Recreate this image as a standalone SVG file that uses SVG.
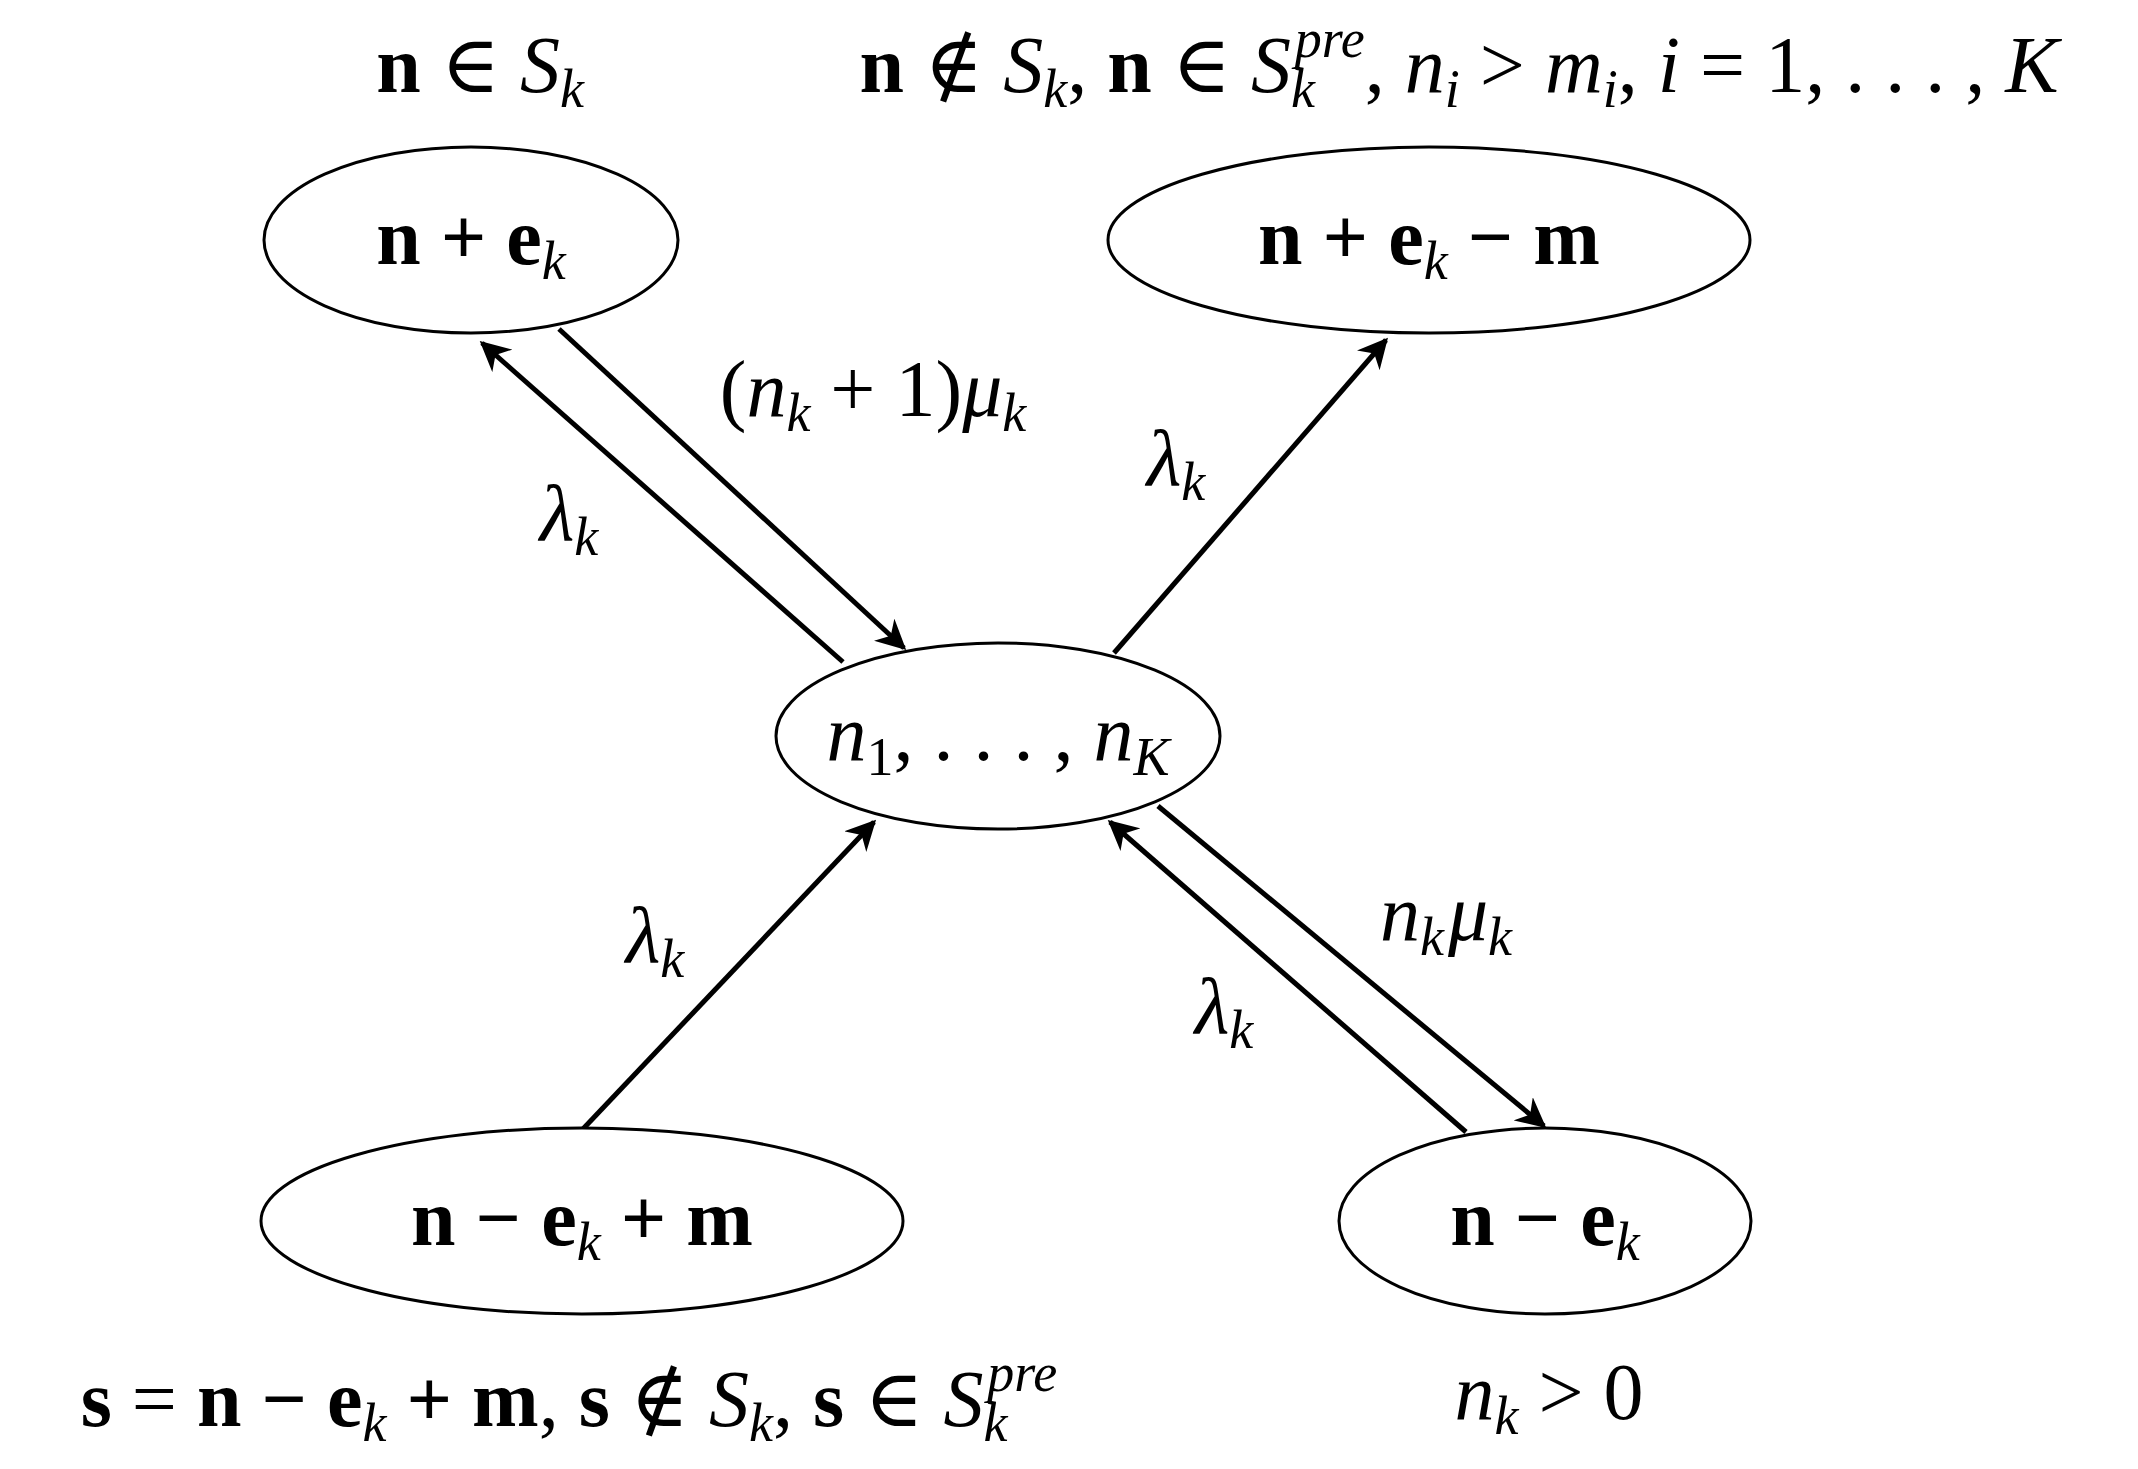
<svg xmlns="http://www.w3.org/2000/svg" width="2138" height="1469" viewBox="0 0 2138 1469">
<defs>
<style>
.n{fill:#fff;stroke:#000;stroke-width:3}
.c{stroke:#000;stroke-width:5;fill:none;marker-end:url(#a)}
text{font-family:"Liberation Serif","DejaVu Serif",serif;font-size:80px;text-anchor:middle;fill:#000}
.b{font-weight:bold}
.i{font-style:italic}
.s{font-size:54px;font-style:italic}
</style>
<marker id="a" viewBox="0 0 10 10" refX="9" refY="5" markerWidth="6" markerHeight="6" orient="auto" markerUnits="strokeWidth"><path d="M0,0L10,5L0,10L3,5z" fill="#000"/></marker>
</defs>
<rect width="2138" height="1469" fill="#fff"/>
<g id="connectors">
<line class="c" x1="843" y1="662" x2="482" y2="343"/>
<line class="c" x1="559" y1="329" x2="904" y2="648"/>
<line class="c" x1="1114" y1="653" x2="1386" y2="340"/>
<line class="c" x1="582" y1="1130" x2="874" y2="822"/>
<line class="c" x1="1466" y1="1132" x2="1110" y2="822"/>
<line class="c" x1="1158" y1="806" x2="1544" y2="1126"/>
</g>
<g id="n1"><ellipse class="n" cx="471" cy="240" rx="207" ry="93"/><text x="471" y="264"><tspan class="b">n + e</tspan><tspan class="s" dy="15">k</tspan></text></g>
<g id="n2"><ellipse class="n" cx="1429" cy="240" rx="321" ry="93"/><text x="1429" y="264"><tspan class="b">n + e</tspan><tspan class="s" dy="15">k</tspan><tspan class="b" dy="-15"> − m</tspan></text></g>
<g id="n0"><ellipse class="n" cx="998" cy="736" rx="222" ry="93"/><text x="998" y="760"><tspan class="i">n</tspan><tspan font-size="54" dy="15">1</tspan><tspan dy="-15">, . . . , </tspan><tspan class="i">n</tspan><tspan class="s" dy="15">K</tspan></text></g>
<g id="n3"><ellipse class="n" cx="582" cy="1221" rx="321" ry="93"/><text x="582" y="1245"><tspan class="b">n − e</tspan><tspan class="s" dy="15">k</tspan><tspan class="b" dy="-15"> + m</tspan></text></g>
<g id="n4"><ellipse class="n" cx="1545" cy="1221" rx="206" ry="93"/><text x="1545" y="1245"><tspan class="b">n − e</tspan><tspan class="s" dy="15">k</tspan></text></g>
<g id="labels">
<text x="480" y="92"><tspan class="b">n</tspan> ∈ <tspan class="i">S</tspan><tspan class="s" dy="15">k</tspan></text>
<text x="1459" y="92"><tspan class="b">n</tspan> ∉ <tspan class="i">S</tspan><tspan class="s" dy="15">k</tspan><tspan dy="-15">, </tspan><tspan class="b">n</tspan> ∈ <tspan class="i">S</tspan><tspan class="s" dy="15">k</tspan><tspan class="s" dx="-20" dy="-50">pre</tspan><tspan dy="35">, </tspan><tspan class="i">n</tspan><tspan class="s" dy="15">i</tspan><tspan dy="-15"> &gt; </tspan><tspan class="i">m</tspan><tspan class="s" dy="15">i</tspan><tspan dy="-15">, </tspan><tspan class="i">i</tspan> = 1, . . . , <tspan class="i">K</tspan></text>
<text x="873" y="416">(<tspan class="i">n</tspan><tspan class="s" dy="15">k</tspan><tspan dy="-15"> + 1)</tspan><tspan class="i">μ</tspan><tspan class="s" dy="15">k</tspan></text>
<text x="569" y="540"><tspan class="i">λ</tspan><tspan class="s" dy="15">k</tspan></text>
<text x="1176" y="485"><tspan class="i">λ</tspan><tspan class="s" dy="15">k</tspan></text>
<text x="655" y="962"><tspan class="i">λ</tspan><tspan class="s" dy="15">k</tspan></text>
<text x="1446" y="940"><tspan class="i">n</tspan><tspan class="s" dy="15">k</tspan><tspan class="i" dx="4" dy="-15">μ</tspan><tspan class="s" dy="15">k</tspan></text>
<text x="1224" y="1033"><tspan class="i">λ</tspan><tspan class="s" dy="15">k</tspan></text>
<text x="569" y="1426"><tspan class="b">s</tspan> = <tspan class="b">n − e</tspan><tspan class="s" dy="15">k</tspan><tspan class="b" dy="-15"> + m</tspan>, <tspan class="b">s</tspan> ∉ <tspan class="i">S</tspan><tspan class="s" dy="15">k</tspan><tspan dy="-15">, </tspan><tspan class="b">s</tspan> ∈ <tspan class="i">S</tspan><tspan class="s" dy="15">k</tspan><tspan class="s" dx="-20" dy="-50">pre</tspan></text>
<text x="1549" y="1419"><tspan class="i">n</tspan><tspan class="s" dy="15">k</tspan><tspan dy="-15"> &gt; 0</tspan></text>
</g>
</svg>
